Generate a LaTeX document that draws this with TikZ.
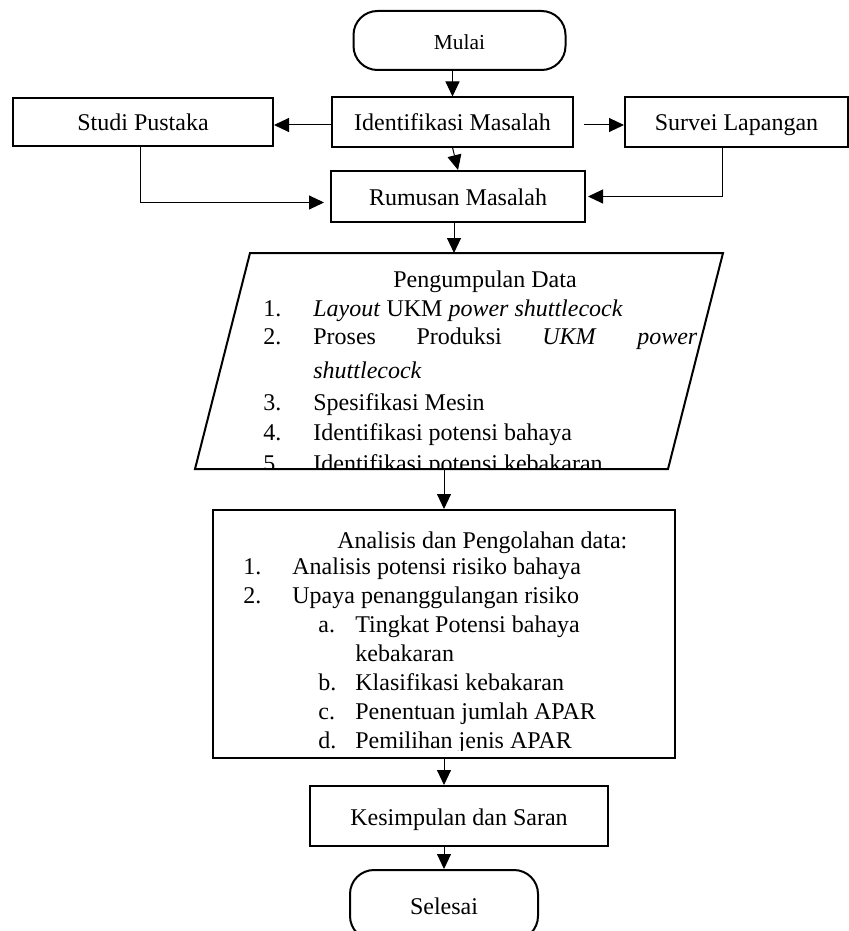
\documentclass[tikz,border=0pt]{standalone}
\usepackage{fontspec}
\setmainfont{Liberation Serif}
\usetikzlibrary{arrows.meta}
\begin{document}
\begin{tikzpicture}[x=0.5pt,y=-0.5pt,
  fnt/.style={font=\fontsize{12pt}{14pt}\selectfont},
  box/.style={draw, line width=1pt, fnt, inner sep=0pt, text height=10.5pt, text depth=1.5pt, align=center},
  term/.style={box, rounded corners=12pt},
  arr/.style={line width=0.5pt, -{Triangle[length=7.5pt,width=7pt]}},
  txt/.style={fnt, inner sep=0pt, anchor=base west},
  outline/.style={line width=1pt},
]
\useasboundingbox (0,0) rectangle (849,931);

% top part
\node[term, minimum width=106pt, minimum height=29.5pt, font=\fontsize{10.7pt}{12pt}\selectfont] (mulai) at (459.5,40.5) {Mulai};
\node[box, minimum width=120.5pt, minimum height=24.5pt] (ident) at (452.5,122) {Identifikasi Masalah};
\node[box, minimum width=130pt, minimum height=24pt] (studi) at (143,122) {Studi Pustaka};
\node[box, minimum width=111.5pt, minimum height=24.5pt] (survei) at (736.5,122) {Survei Lapangan};
\node[box, minimum width=127pt, minimum height=25.5pt] (rumusan) at (458,196.5) {Rumusan Masalah};

% data collection parallelogram
\coordinate (pTL) at (250,253);
\coordinate (pTR) at (723,253);
\coordinate (pBR) at (668,469);
\coordinate (pBL) at (195,469);
\coordinate (pIn) at (454,253);
\coordinate (pOut) at (444,469);
\begin{scope}
  \clip (pTL) -- (pTR) -- (pBR) -- (pBL) -- cycle;
  \node[txt, anchor=base] (p0) at (485,287) {Pengumpulan Data};
  \node[txt] (p1n) at (263,316) {1.};
  \node[txt] (p1) at (313,316) {\textit{Layout} UKM \textit{power shuttlecock}};
  \node[txt] (p2n) at (263,344) {2.};
  \node[txt] (p2) at (313,344) {\hbox to 192pt{Proses\hfill Produksi\hfill\textit{UKM}\hfill\textit{power}}};
  \node[txt] (p2b) at (313,378) {\textit{shuttlecock}};
  \node[txt] (p3n) at (263,410) {3.};
  \node[txt] (p3) at (313,410) {Spesifikasi Mesin};
  \node[txt] (p4n) at (263,440) {4.};
  \node[txt] (p4) at (313,440) {Identifikasi potensi bahaya};
  \node[txt] (p5n) at (263,471) {5.};
  \node[txt] (p5) at (313,471) {Identifikasi potensi kebakaran};
\end{scope}
\draw[outline] (pTL) -- (pTR) -- (pBR) -- (pBL) -- cycle;

% analysis box
\node[box, minimum width=231pt, minimum height=124pt] (anal) at (444,634) {};
\begin{scope}
  \clip (213,510) rectangle (675,750);
  \node[txt] (a0) at (337,548) {Analisis dan Pengolahan data:};
  \node[txt] (a1n) at (243,574) {1.};
  \node[txt] (a1) at (292,574) {Analisis potensi risiko bahaya};
  \node[txt] (a2n) at (243,603) {2.};
  \node[txt] (a2) at (292,603) {Upaya penanggulangan risiko};
  \node[txt] (aan) at (318,632) {a.};
  \node[txt] (aa) at (355,632) {Tingkat Potensi bahaya};
  \node[txt] (aa2) at (355,661) {kebakaran};
  \node[txt] (abn) at (318,690) {b.};
  \node[txt] (ab) at (355,690) {Klasifikasi kebakaran};
  \node[txt] (acn) at (318,719) {c.};
  \node[txt] (ac) at (355,719) {Penentuan jumlah APAR};
  \node[txt] (adn) at (318,748) {d.};
  \node[txt] (ad) at (355,748) {Pemilihan jenis APAR};
\end{scope}

% bottom part
\node[box, minimum width=149pt, minimum height=30pt] (kes) at (459,816) {Kesimpulan dan Saran};
\node[term, minimum width=94pt, minimum height=35pt] (sel) at (444,905) {Selesai};

% connectors
\draw[arr] (mulai.south -| ident.north) -- (ident.north);
\draw[arr] ([yshift=-1.5pt]ident.west) -- ([yshift=-1.5pt]studi.east);
\draw[arr] ([xshift=5pt,yshift=-1.5pt]ident.east) -- ([yshift=-1.5pt]survei.west);
\draw[arr] (ident.south) -- (rumusan.north);
\draw[arr] ([xshift=-1.5pt]studi.south) |- ([xshift=-3pt,yshift=-3pt]rumusan.west);
\draw[arr] ([xshift=-7.25pt]survei.south) |- ([xshift=1pt]rumusan.east);
\draw[arr] ([xshift=-2pt]rumusan.south) -- (pIn);
\draw[arr] (pOut) -- (anal.north);
\draw[arr] (anal.south) -- (anal.south |- kes.north);
\draw[arr] (kes.south -| sel.north) -- (sel.north);
\end{tikzpicture}
\end{document}
